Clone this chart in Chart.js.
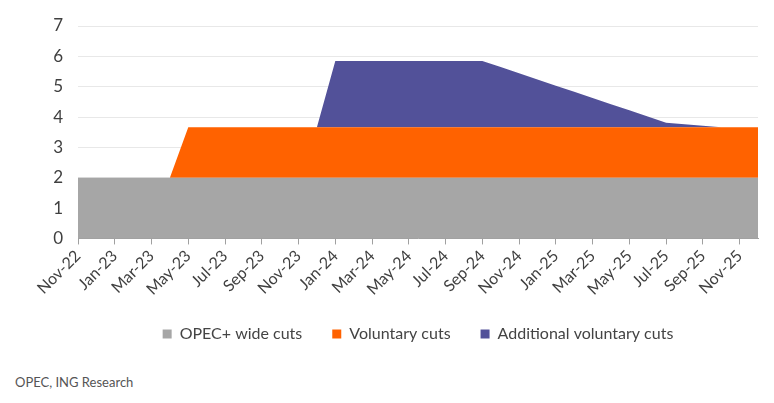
<!DOCTYPE html>
<html>
<head>
<meta charset="utf-8">
<script src="https://cdn.jsdelivr.net/npm/chart.js@4.4.1/dist/chart.umd.min.js"></script>
<style>
  body { margin: 0; background: #fff; width: 774px; height: 403px; overflow: hidden; position: relative; }
  #wrap { position: absolute; left: 0; top: 0; width: 774px; height: 352px; }
  #source { position: absolute; left: 15px; top: 374px; font-family: Lato, sans-serif; font-size: 13px; color: #555; }
</style>
</head>
<body>
<div id="wrap"><canvas id="cutsChart"></canvas></div>
<div id="source">OPEC, ING Research</div>
<script>
// months on the x axis (Nov-22 .. Dec-25)
const months = [
    "Nov-22", "Dec-22", "Jan-23", "Feb-23", "Mar-23", "Apr-23", "May-23", "Jun-23",
    "Jul-23", "Aug-23", "Sep-23", "Oct-23", "Nov-23", "Dec-23", "Jan-24", "Feb-24",
    "Mar-24", "Apr-24", "May-24", "Jun-24", "Jul-24", "Aug-24", "Sep-24", "Oct-24",
    "Nov-24", "Dec-24", "Jan-25", "Feb-25", "Mar-25", "Apr-25", "May-25", "Jun-25",
    "Jul-25", "Aug-25", "Sep-25", "Oct-25", "Nov-25", "Dec-25"
];

// million b/d
const opecWideCuts = [
    2, 2, 2, 2, 2, 2, 2, 2, 2, 2, 2, 2, 2, 2, 2, 2, 2, 2, 2,
    2, 2, 2, 2, 2, 2, 2, 2, 2, 2, 2, 2, 2, 2, 2, 2, 2, 2, 2
];
const voluntaryCuts = [
    0, 0, 0, 0, 0, 0, 1.66, 1.66, 1.66, 1.66, 1.66, 1.66, 1.66, 1.66, 1.66, 1.66, 1.66, 1.66, 1.66,
    1.66, 1.66, 1.66, 1.66, 1.66, 1.66, 1.66, 1.66, 1.66, 1.66, 1.66, 1.66, 1.66, 1.66, 1.66, 1.66, 1.66, 1.66, 1.66
];
const additionalCuts = [
    0, 0, 0, 0, 0, 0, 0, 0, 0, 0, 0, 0, 0, 0, 2.19, 2.19, 2.19, 2.19, 2.19,
    2.19, 2.19, 2.19, 2.19, 1.99, 1.78, 1.58, 1.37, 1.17, 0.97, 0.76, 0.56, 0.36, 0.15, 0.1, 0.05, 0, 0, 0
];

const yTicks = [0, 1, 2, 3, 4, 5, 6, 7];

const seriesNames = ["OPEC+ wide cuts", "Voluntary cuts", "Additional voluntary cuts"];
const seriesColors = ["#a6a6a6", "#ff6200", "#525199"];

const fontFamily = "Lato, 'Noto Sans', sans-serif";
const ctx = document.getElementById('cutsChart').getContext('2d');

function makeArea(label, data, color, fillTo) {
    return {
        label: label,
        data: data,
        backgroundColor: color,
        borderColor: color,
        borderWidth: 0,
        pointRadius: 0,
        pointHoverRadius: 0,
        tension: 0,
        fill: fillTo
    };
}

const myChart = new Chart(ctx, {
    type: 'line',
    data: {
        labels: months,
        datasets: [
            makeArea(seriesNames[0], opecWideCuts, seriesColors[0], 'origin'),
            makeArea(seriesNames[1], voluntaryCuts, seriesColors[1], '-1'),
            makeArea(seriesNames[2], additionalCuts, seriesColors[2], '-1')
        ]
    },
    options: {
        responsive: true,
        maintainAspectRatio: false,
        animation: false,
        layout: {
            padding: { top: 26, right: 16, left: 0, bottom: 0 }
        },
        plugins: {
            tooltip: { enabled: false },
            legend: {
                position: 'bottom',
                fullSize: false,
                labels: {
                    boxWidth: 9,
                    boxHeight: 9,
                    padding: 30,
                    color: '#444',
                    font: { family: fontFamily, size: 16 }
                }
            }
        },
        scales: {
            x: {
                offset: false,
                afterFit: function (scale) { scale.height -= 5; },
                grid: {
                    display: true,
                    drawOnChartArea: false,
                    drawTicks: true,
                    tickLength: 6,
                    color: '#a0a0a0'
                },
                border: { display: true, color: '#a0a0a0' },
                ticks: {
                    autoSkip: false,
                    maxRotation: 45,
                    minRotation: 45,
                    padding: 2,
                    color: '#404040',
                    font: { family: fontFamily, size: 16 },
                    callback: function (value, index) {
                        return index % 2 === 0 ? this.getLabelForValue(value) : null;
                    }
                }
            },
            y: {
                stacked: true,
                min: yTicks[0],
                max: yTicks[yTicks.length - 1],
                afterFit: function (scale) { scale.width = 78; },
                afterBuildTicks: function (scale) {
                    scale.ticks = yTicks.map(v => ({ value: v }));
                },
                grid: {
                    color: '#e8e8e8',
                    drawTicks: false
                },
                border: { display: false },
                ticks: {
                    padding: 15,
                    color: '#404040',
                    font: { family: fontFamily, size: 17 }
                }
            }
        }
    }
});
</script>
</body>
</html>
